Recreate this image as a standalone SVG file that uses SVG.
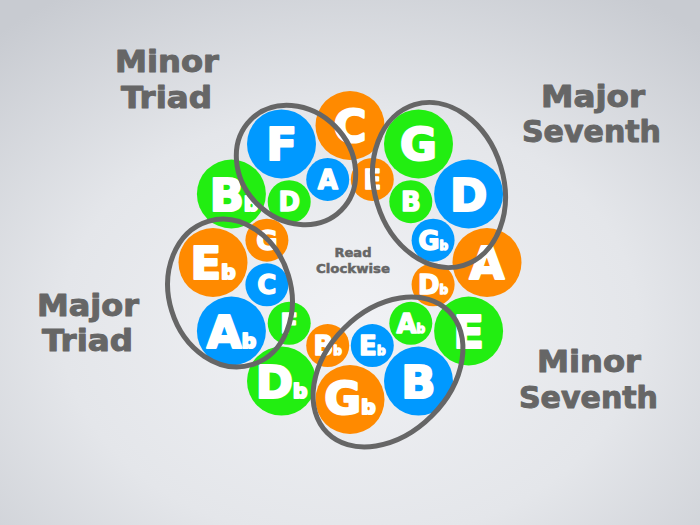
<svg xmlns="http://www.w3.org/2000/svg" width="700" height="525" viewBox="0 0 700 525">
<defs>
<radialGradient id="bg" cx="50%" cy="62%" r="75%">
<stop offset="0" stop-color="#f1f2f5"/>
<stop offset="0.55" stop-color="#e4e6ea"/>
<stop offset="1" stop-color="#c8cbd1"/>
</radialGradient>
</defs>
<style>
.o{fill:#ff8a00}
.g{fill:#22ee11}
.b{fill:#0099ff}
.big,.sm{font-family:"DejaVu Sans","Liberation Sans",sans-serif;font-weight:bold;fill:#fff;stroke:#fff;stroke-linejoin:round;text-anchor:middle}
.big{font-size:45px;stroke-width:2.2}
.sm{font-size:26px;stroke-width:1.4}
.fb{font-size:20px}
.sfb{font-size:12px}
.lbl{font-family:"DejaVu Sans","Liberation Sans",sans-serif;font-weight:bold;font-size:30px;fill:#666;stroke:#666;stroke-width:1;stroke-linejoin:round;text-anchor:middle}
.rc{font-family:"DejaVu Sans","Liberation Sans",sans-serif;font-weight:bold;font-size:12.5px;fill:#666;stroke:#666;stroke-width:0.5;text-anchor:middle}
.ring{fill:none;stroke:#666;stroke-width:5}
</style>
<rect width="700" height="525" fill="url(#bg)"/>

<g id="big-notes">
<g id="n-C"><circle class="o" cx="350" cy="125.5" r="34.5"/><text class="big" x="350" y="142">C</text></g>
<g id="n-G"><circle class="g" cx="418.5" cy="143.9" r="34.5"/><text class="big" x="418.5" y="160.4">G</text></g>
<g id="n-D"><circle class="b" cx="468.6" cy="194" r="34.5"/><text class="big" x="468.6" y="210.5">D</text></g>
<g id="n-A"><circle class="o" cx="487" cy="262.5" r="34.5"/><text class="big" x="487" y="279">A</text></g>
<g id="n-E"><circle class="g" cx="468.6" cy="331" r="34.5"/><text class="big" x="468.6" y="347.5">E</text></g>
<g id="n-B"><circle class="b" cx="418.5" cy="381.1" r="34.5"/><text class="big" x="418.5" y="397.6">B</text></g>
<g id="n-Gb"><circle class="o" cx="350" cy="399.5" r="34.5"/><text class="big" x="350" y="414">G<tspan class="fb">b</tspan></text></g>
<g id="n-Db"><circle class="g" cx="281.5" cy="381.1" r="34.5"/><text class="big" x="281.5" y="397.6">D<tspan class="fb">b</tspan></text></g>
<g id="n-Ab"><circle class="b" cx="231.4" cy="331" r="34.5"/><text class="big" x="231.4" y="347.5">A<tspan class="fb">b</tspan></text></g>
<g id="n-Eb"><circle class="o" cx="213" cy="262.5" r="34.5"/><text class="big" x="213" y="279">E<tspan class="fb">b</tspan></text></g>
<g id="n-Bb"><circle class="g" cx="231.4" cy="194" r="34.5"/><text class="big" x="234" y="210.5">B<tspan class="fb">b</tspan></text></g>
<g id="n-F"><circle class="b" cx="281.5" cy="143.9" r="34.5"/><text class="big" x="281.5" y="160.4">F</text></g>
</g>

<g id="small-notes">
<g id="s-E"><circle class="o" cx="372.3" cy="179.4" r="21.5"/><text class="sm" x="372.3" y="188.9">E</text></g>
<g id="s-B"><circle class="g" cx="410.8" cy="201.7" r="21.5"/><text class="sm" x="410.8" y="211.2">B</text></g>
<g id="s-Gb"><circle class="b" cx="433.1" cy="240.2" r="21.5"/><text class="sm" x="433.1" y="249.7">G<tspan class="sfb">b</tspan></text></g>
<g id="s-Db"><circle class="o" cx="433.1" cy="284.8" r="21.5"/><text class="sm" x="433.1" y="294.3">D<tspan class="sfb">b</tspan></text></g>
<g id="s-Ab"><circle class="g" cx="410.8" cy="323.3" r="21.5"/><text class="sm" x="410.8" y="332.8">A<tspan class="sfb">b</tspan></text></g>
<g id="s-Eb"><circle class="b" cx="372.3" cy="345.6" r="21.5"/><text class="sm" x="372.3" y="355.1">E<tspan class="sfb">b</tspan></text></g>
<g id="s-Bb"><circle class="o" cx="327.7" cy="345.6" r="21.5"/><text class="sm" x="327.7" y="355.1">B<tspan class="sfb">b</tspan></text></g>
<g id="s-F"><circle class="g" cx="289.2" cy="323.3" r="21.5"/><text class="sm" x="289.2" y="332.8">F</text></g>
<g id="s-C"><circle class="b" cx="266.9" cy="284.8" r="21.5"/><text class="sm" x="266.9" y="294.3">C</text></g>
<g id="s-G"><circle class="o" cx="266.9" cy="240.2" r="21.5"/><text class="sm" x="266.9" y="249.7">G</text></g>
<g id="s-D"><circle class="g" cx="289.2" cy="201.7" r="21.5"/><text class="sm" x="289.2" y="211.2">D</text></g>
<g id="s-A"><circle class="b" cx="327.7" cy="179.4" r="21.5"/><text class="sm" x="327.7" y="188.9">A</text></g>
</g>

<g id="groupings">
<ellipse id="ring-minor-triad" class="ring" cx="296" cy="165" rx="64" ry="55" transform="rotate(45 296 165)"/>
<ellipse id="ring-major-seventh" class="ring" cx="439" cy="185" rx="64.5" ry="84" transform="rotate(-17 439 185)"/>
<ellipse id="ring-major-triad" class="ring" cx="230" cy="293" rx="61" ry="75" transform="rotate(-17 230 293)"/>
<ellipse id="ring-minor-seventh" class="ring" cx="388" cy="372" rx="86" ry="62" transform="rotate(-45 388 372)"/>
</g>

<g id="labels">
<text class="lbl" x="167" y="72" textLength="104" lengthAdjust="spacingAndGlyphs">Minor</text>
<text class="lbl" x="166.5" y="108" textLength="91" lengthAdjust="spacingAndGlyphs">Triad</text>
<text class="lbl" x="593" y="107" textLength="104" lengthAdjust="spacingAndGlyphs">Major</text>
<text class="lbl" x="591.5" y="142" textLength="139" lengthAdjust="spacingAndGlyphs">Seventh</text>
<text class="lbl" x="88" y="316" textLength="102" lengthAdjust="spacingAndGlyphs">Major</text>
<text class="lbl" x="87.5" y="351" textLength="91" lengthAdjust="spacingAndGlyphs">Triad</text>
<text class="lbl" x="589" y="372" textLength="104" lengthAdjust="spacingAndGlyphs">Minor</text>
<text class="lbl" x="588.5" y="408" textLength="139" lengthAdjust="spacingAndGlyphs">Seventh</text>
<text class="rc" x="353" y="257" textLength="37" lengthAdjust="spacingAndGlyphs">Read</text>
<text class="rc" x="353" y="273" textLength="74" lengthAdjust="spacingAndGlyphs">Clockwise</text>
</g>
</svg>
